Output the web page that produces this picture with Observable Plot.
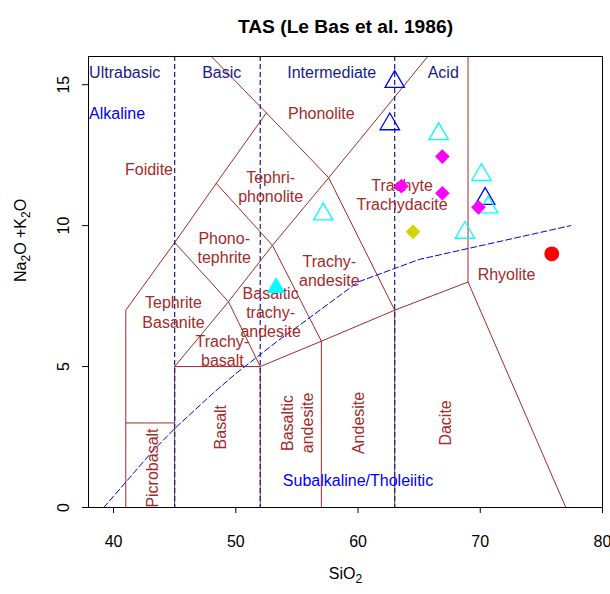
<!DOCTYPE html>
<html>
<head>
<meta charset="utf-8">
<script src="https://cdn.jsdelivr.net/npm/d3@7"></script>
<script src="https://cdn.jsdelivr.net/npm/@observablehq/plot@0.6"></script>
<style>
  body { margin: 0; background: #fff; }
</style>
</head>
<body>
<div id="chart"></div>
<script>
// TAS classification (Le Bas et al. 1986): field boundaries as polylines of [SiO2, Na2O+K2O]
const fieldBoundaries = [
  [[41, 0], [41, 7], [45, 9.4], [48.4, 11.5], [52.5, 14]],
  [[48, 16], [52.5, 14], [57.6, 11.7], [63, 7]],
  [[45, 5], [49.4, 7.3], [53, 9.3], [57.6, 11.7], [61, 13.5], [65.7, 16]],
  [[45, 9.4], [49.4, 7.3], [52, 5]],
  [[48.4, 11.5], [53, 9.3], [57, 5.9]],
  [[41, 3], [45, 3]],
  [[45, 0], [45, 5], [52, 5], [57, 5.9], [63, 7], [69, 8], [77, 0]],
  [[52, 0], [52, 5]],
  [[57, 0], [57, 5.9]],
  [[63, 0], [63, 7]],
  [[69, 8], [69, 16]]
];

// Silica classes and their dividers
const silicaDividers = [45, 52, 63];
const silicaClasses = ["Ultrabasic", "Basic", "Intermediate", "Acid"];
const silicaClassX = [38.0, 48.85, 57.85, 66.97];
const silicaClassY = 15.42;

// Alkaline / subalkaline divide (Irvine & Baragar 1971)
const ibSiO2 = [39.2, 40, 43.2, 45, 48, 50, 53.7, 55, 60, 65, 77.4];
const ibAlk  = [0, 0.4, 2, 2.8, 4, 4.75, 6, 6.4, 8, 8.8, 10];

// Field names
const fieldNames = ["Foidite", "Phonolite", "Tephri-\nphonolite", "Phono-\ntephrite",
  "Tephrite\nBasanite", "Basaltic\ntrachy-\nandesite", "Trachy-\nbasalt",
  "Trachy-\nandesite", "Trachyte\nTrachydacite", "Rhyolite"];
const fieldNameX = [42.9, 57.0, 52.85, 49.05, 44.9, 52.85, 48.9, 57.65, 63.6, 72.15];
const fieldNameY = [12.0, 14.0, 11.38, 9.23, 6.94, 6.95, 5.57, 8.4, 11.12, 8.29];

const uprightNames = ["Picrobasalt", "Basalt", "Basaltic\nandesite", "Andesite", "Dacite"];
const uprightNameX = [43.1, 48.7, 55.0, 59.95, 67.05];
const uprightNameY = [1.4, 2.85, 3.0, 3.0, 3.0];

// Samples
const blueOpenSiO2 = [63.0, 62.6, 70.4];
const blueOpenAlk  = [15.1, 13.6, 10.95];
const cyanOpenSiO2 = [66.6, 70.1, 70.65, 68.75, 57.15];
const cyanOpenAlk  = [13.25, 11.8, 10.65, 9.75, 10.4];
const cyanFilledSiO2 = [53.3];
const cyanFilledAlk  = [7.8];
const magentaSiO2 = [66.9, 63.55, 66.9, 69.85];
const magentaAlk  = [12.45, 11.4, 11.15, 10.65];
const yellowSiO2 = [64.5];
const yellowAlk  = [9.78];
const redSiO2 = [75.85];
const redAlk  = [9.0];

const xTicks = [40, 50, 60, 70, 80];
const yTicks = [0, 5, 10, 15];

// Axis titles, split into [text, isSubscript] runs
const xTitle = [["SiO", false], ["2", true]];
const yTitle = [["Na", false], ["2", true], ["O +K", false], ["2", true], ["O", false]];

const boundaryRows = fieldBoundaries.flatMap((line, id) => line.map(([x, y]) => ({x, y, id})));
const ibRows = ibSiO2.map((x, i) => ({x, y: ibAlk[i]}));
const pts = (xs, ys) => xs.map((x, i) => ({x, y: ys[i]}));
const plain = runs => runs.map(r => r[0]).join("");

const brown = "#a52a2a";
const navy = "#1a1a8c";

const chart = Plot.plot({
  width: 610,
  height: 594,
  marginTop: 56,
  marginRight: 8,
  marginBottom: 87,
  marginLeft: 88,
  style: {fontFamily: "'Liberation Sans', Arial, sans-serif", fontSize: "16px", background: "#fff", color: "#000"},
  x: {domain: [37.95, 80]},
  y: {domain: [0, 16]},
  marks: [
    Plot.line(boundaryRows, {x: "x", y: "y", z: "id", stroke: brown, strokeWidth: 1}),
    Plot.ruleX(silicaDividers, {stroke: navy, strokeWidth: 1.2, strokeDasharray: "5,3"}),
    Plot.line(ibRows, {x: "x", y: "y", stroke: "blue", strokeWidth: 1, strokeDasharray: "6,3"}),

    // silica classes
    Plot.text(silicaClasses.slice(0, 1), {x: silicaClassX[0], y: silicaClassY, text: d => d, fill: navy, textAnchor: "start"}),
    Plot.text(silicaClasses.slice(1), {x: (d, i) => silicaClassX[i + 1], y: silicaClassY, text: d => d, fill: navy}),
    Plot.text(["Alkaline"], {x: 38.0, y: 13.95, text: d => d, fill: "blue", textAnchor: "start"}),
    Plot.text(["Subalkaline/Tholeiitic"], {x: 60.0, y: 0.95, text: d => d, fill: "blue"}),

    // field names
    Plot.text(fieldNames, {x: (d, i) => fieldNameX[i], y: (d, i) => fieldNameY[i], text: d => d, fill: brown, lineHeight: 1.2}),
    Plot.text(uprightNames, {x: (d, i) => uprightNameX[i], y: (d, i) => uprightNameY[i], text: d => d, fill: brown, rotate: -90, lineHeight: 1.25, clip: true}),

    // samples
    Plot.dot(pts(blueOpenSiO2, blueOpenAlk), {x: "x", y: "y", symbol: "triangle", r: 7.2, stroke: "blue", strokeWidth: 1.3, fill: "none"}),
    Plot.dot(pts(cyanOpenSiO2, cyanOpenAlk), {x: "x", y: "y", symbol: "triangle", r: 7.2, stroke: "cyan", strokeWidth: 1.3, fill: "none"}),
    Plot.dot(pts(cyanFilledSiO2, cyanFilledAlk), {x: "x", y: "y", symbol: "triangle", r: 6.8, fill: "cyan", stroke: "none"}),
    Plot.dot(pts(magentaSiO2, magentaAlk), {x: "x", y: "y", symbol: "diamond2", r: 6.6, fill: "magenta", stroke: "none"}),
    Plot.dot(pts(yellowSiO2, yellowAlk), {x: "x", y: "y", symbol: "diamond2", r: 6.6, fill: "#d4d400", stroke: "none"}),
    Plot.dot(pts(redSiO2, redAlk), {x: "x", y: "y", symbol: "circle", r: 7.4, fill: "red", stroke: "none"}),

    // axes and frame
    Plot.frame({stroke: "#000", strokeWidth: 1}),
    Plot.axisX({ticks: xTicks, tickSize: 6, tickPadding: 22, label: null}),
    Plot.axisY({ticks: yTicks, tickSize: 6, tickPadding: 14, tickRotate: -90, label: null}),

    // titles
    Plot.text(["TAS (Le Bas et al. 1986)"], {frameAnchor: "top", dy: -37, text: d => d, fontWeight: "bold", fontSize: 19.2}),
    Plot.text([plain(xTitle)], {frameAnchor: "bottom", dy: 71, text: d => d}),
    Plot.text([plain(yTitle)], {frameAnchor: "left", dx: -68, rotate: -90, text: d => d})
  ]
});

// Set the chemical formula digits as subscripts
function setSubscripts(svg, runs) {
  const label = plain(runs);
  d3.select(svg).selectAll("text")
    .filter(function () { return this.textContent === label; })
    .each(function () {
      const t = d3.select(this).text(null);
      let shifted = false;
      for (const [s, sub] of runs) {
        const span = t.append("tspan").text(s);
        if (sub && !shifted) { span.attr("font-size", "12px").attr("dy", 4); shifted = true; }
        else if (sub) { span.attr("font-size", "12px"); }
        else if (shifted) { span.attr("dy", -4); shifted = false; }
      }
    });
}
setSubscripts(chart, xTitle);
setSubscripts(chart, yTitle);

document.getElementById("chart").appendChild(chart);
</script>
</body>
</html>
